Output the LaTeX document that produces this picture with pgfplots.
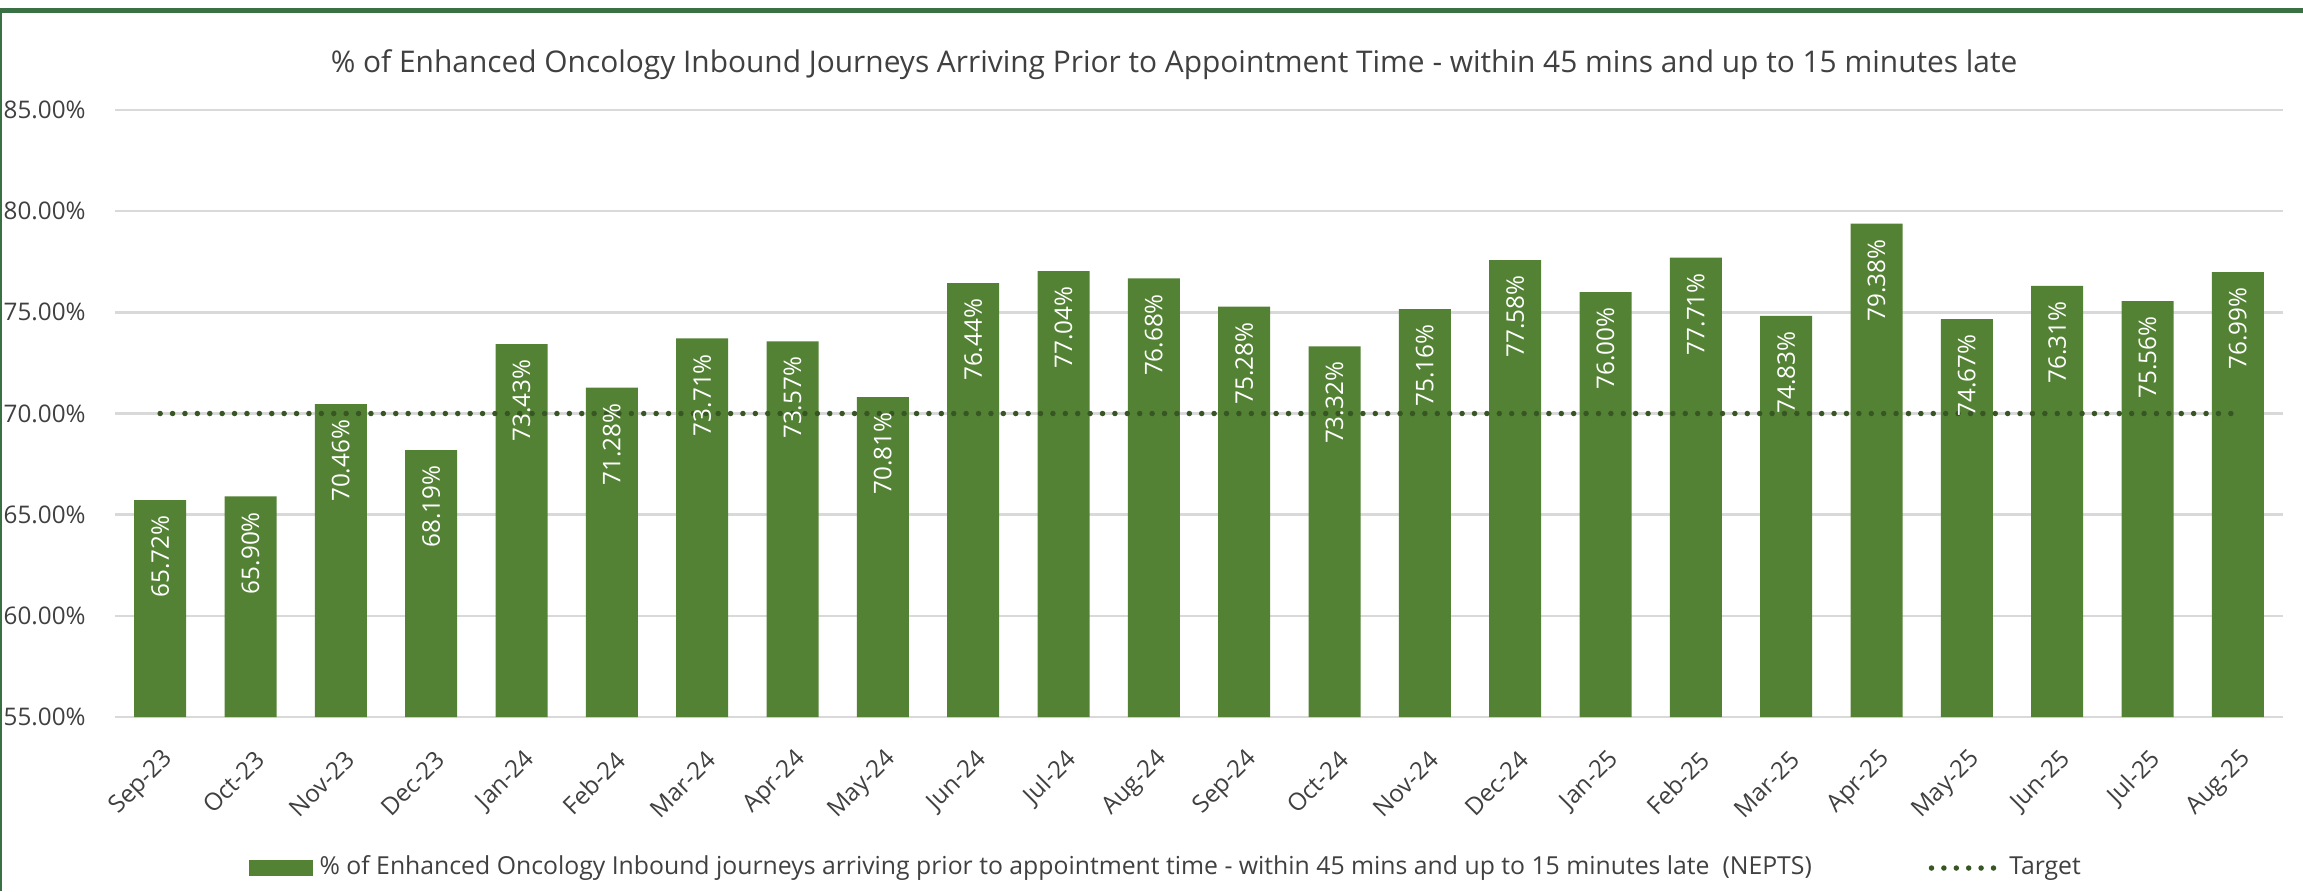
\documentclass[border=0pt]{standalone}
\usepackage{fontspec}
\setmainfont{Open Sans}
\usepackage{xcolor}
\usepackage{pgfplots}
\pgfplotsset{compat=1.18}

\definecolor{bargreen}{HTML}{548235}
\definecolor{targetgreen}{HTML}{375623}
\definecolor{framegreen}{HTML}{3A7144}
\definecolor{gridgray}{HTML}{D9D9D9}
\definecolor{txt}{HTML}{404040}

\newcommand{\smallfont}{\fontsize{6.9}{8.2}\selectfont}

\begin{document}
\begin{tikzpicture}
\path[use as bounding box] (0,0) rectangle (23.03,8.91);
% frame of the chart
\fill[framegreen] (0,8.78) rectangle (23.03,8.83);
\fill[framegreen] (0,0) rectangle (0.025,8.83);

\begin{axis}[
    at={(1.15cm,1.74cm)}, anchor=south west,
    scale only axis,
    width=21.68cm, height=6.07cm,
    ybar, bar width=0.52cm,
    xmin=-0.5, xmax=23.5,
    ymin=55, ymax=85,
    ytick={55,60,...,85},
    xtick={0,...,23},
    xticklabels={Sep-23,Oct-23,Nov-23,Dec-23,Jan-24,Feb-24,Mar-24,Apr-24,May-24,Jun-24,Jul-24,Aug-24,Sep-24,Oct-24,Nov-24,Dec-24,Jan-25,Feb-25,Mar-25,Apr-25,May-25,Jun-25,Jul-25,Aug-25},
    yticklabel={\pgfmathprintnumber[fixed,fixed zerofill,precision=2]{\tick}\%},
    /pgf/number format/assume math mode=true,
    axis line style={draw=none},
    major tick length=0pt,
    ymajorgrids, grid style={gridgray, line width=0.75pt},
    yticklabel style={font=\smallfont, text=txt, xshift=-0.17cm},
    xticklabel style={font=\smallfont, text=txt, xshift=0.18cm, yshift=-0.30cm, rotate=45, anchor=east},
    title={\% of Enhanced Oncology Inbound Journeys Arriving Prior to Appointment Time - within 45 mins and up to 15 minutes late},
    title style={font=\fontsize{8.5}{10}\selectfont, text=txt, at={(0.4885,1)}, anchor=base, yshift=0.16cm},
    legend columns=2,
    legend style={draw=none, fill=none, at={(0.0613,-0.2488)}, anchor=west,
        font=\fontsize{7.05}{8.4}\selectfont, text=txt, inner sep=0pt,
        /tikz/every even column/.append style={column sep=1.1cm}},
    legend cell align=left,
]
\addplot[ybar, fill=bargreen, draw=none,
    point meta=y,
    nodes near coords={\pgfmathprintnumber[fixed,fixed zerofill,precision=2]{\pgfplotspointmeta}\%},
    nodes near coords style={font=\smallfont, text=white, rotate=90, anchor=east, inner xsep=0.15cm, inner ysep=0pt},
    legend image code/.code={\fill[bargreen] (0cm,-0.08cm) rectangle (0.64cm,0.08cm);}
] coordinates {
    (0,65.72) (1,65.90) (2,70.46) (3,68.19) (4,73.43) (5,71.28)
    (6,73.71) (7,73.57) (8,70.81) (9,76.44) (10,77.04) (11,76.68)
    (12,75.28) (13,73.32) (14,75.16) (15,77.58) (16,76.00) (17,77.71)
    (18,74.83) (19,79.38) (20,74.67) (21,76.31) (22,75.56) (23,76.99)
};
\addlegendentry{\% of Enhanced Oncology Inbound journeys arriving prior to appointment time - within 45 mins and up to 15 minutes late\ \ (NEPTS)}

\addplot[sharp plot, targetgreen, line width=0.055cm, line cap=round,
    dash pattern=on 0pt off 0.124cm, mark=none,
    legend image code/.code={\draw[targetgreen, line width=0.055cm, line cap=round, dash pattern=on 0pt off 0.124cm] (0cm,0cm) -- (0.68cm,0cm);}
] coordinates {
    (0,70) (1,70) (2,70) (3,70) (4,70) (5,70) (6,70) (7,70)
    (8,70) (9,70) (10,70) (11,70) (12,70) (13,70) (14,70) (15,70)
    (16,70) (17,70) (18,70) (19,70) (20,70) (21,70) (22,70) (23,70)
};
\addlegendentry{Target}
\end{axis}
\end{tikzpicture}
\end{document}
